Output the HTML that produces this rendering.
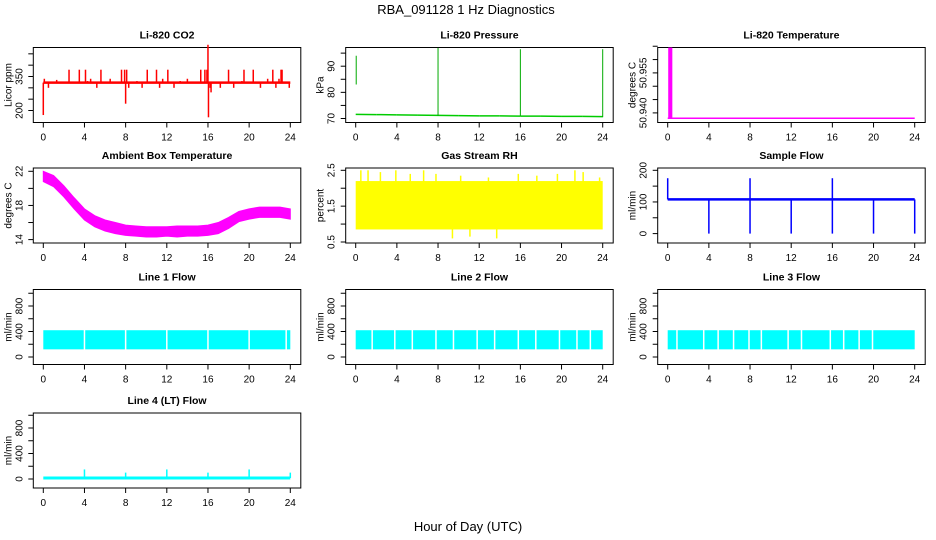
<!DOCTYPE html>
<html><head><meta charset="utf-8"><style>
html,body{margin:0;padding:0;background:#fff;}
svg{display:block;font-family:"Liberation Sans",sans-serif;}
</style></head><body>
<svg id="chart" width="936" height="540" viewBox="0 0 936 540" xmlns="http://www.w3.org/2000/svg">
<text x="466" y="14" text-anchor="middle" font-size="13">RBA_091128  1 Hz Diagnostics</text>
<text x="468" y="531" text-anchor="middle" font-size="13">Hour of Day (UTC)</text>
</svg>
<script>
// ---- data arrays ----
const xTicks = [0,4,8,12,16,20,24];
const co2Base = 323;
const co2SpikeT = [0,0.1,0.5,1.3,2.5,3.5,4.1,4.3,4.6,5.2,5.6,6.5,7.6,7.9,8.0,8.1,8.3,9.1,9.6,10.1,11.0,11.3,11.6,12.1,12.7,13.3,14.0,15.3,15.7,15.9,16.0,16.05,16.2,16.3,17.2,18.0,18.5,19.3,19.5,20.4,21.1,21.8,22.3,22.6,22.9,23.1,23.2,23.9];
const co2SpikeV = [180,340,300,335,380,380,380,330,340,300,380,340,380,380,230,380,300,330,300,380,380,300,340,380,300,330,340,380,380,380,490,170,300,280,300,380,300,330,380,380,300,340,380,300,340,380,380,300];
const presT = [0,2,4,6,8,10,12,14,16,18,20,22,24];
const presV = [71.6,71.5,71.4,71.3,71.2,71.1,71.0,71.0,70.9,70.9,70.8,70.8,70.7];
const presSpikeT = [0.05,8.0,16.0,24.0];
const presSpikeLo = [83,71,71,70.5];
const presSpikeHi = [94,97,96.5,96.5];
const tempBase = 50.938;
const tempBarT = [0.05,0.45];
const tempBarHi = 50.9645;
const ambT = [0,1,2,3,4,5,6,7,8,9,10,11,12,13,14,15,16,17,18,19,20,21,22,23,24];
const ambLo = [20.8,20.2,19.0,17.6,16.3,15.5,15.0,14.7,14.5,14.4,14.3,14.3,14.4,14.3,14.4,14.4,14.5,14.7,15.3,16.1,16.4,16.6,16.6,16.6,16.4];
const ambHi = [22.0,21.5,20.3,18.9,17.6,16.8,16.3,16.0,15.7,15.6,15.5,15.5,15.5,15.6,15.6,15.6,15.7,16.0,16.6,17.3,17.6,17.8,17.8,17.8,17.6];
const rhT = [0,24];
const rhLo = [0.85,0.85];
const rhHi = [2.2,2.2];
const rhSpikeT = [0.5,1.2,2.4,3.9,5.3,6.6,7.8,9.4,10.2,11.1,12.9,13.7,15.8,17.6,19.6,21.3,22.1,23.7];
const rhSpikeV = [2.5,2.5,2.45,2.5,2.4,2.5,2.4,0.6,2.35,0.65,2.3,0.6,2.4,2.35,2.4,2.5,2.45,2.3];
const sfBase = 108;
const sfDropT = [4,8,12,16,20,24];
const sfSpikeT = [0,8,16];
const sfSpikeV = [175,175,175];
const lineLo = [120,120,120];
const lineHi = [420,420,420];
const line1Gaps = [4,8,12,16,20,23.6];
const line2Gaps = [1.6,3.8,5.5,7.8,9.5,11.8,13.5,15.8,17.5,19.8,21.5,22.8];
const line3Gaps = [0.9,3.5,4.9,6.4,7.9,9.1,11.7,13.0,15.8,17.1,18.6,19.9];
const line4Base = 15;
const line4SpikeT = [4,8,12,16,20,24];
const line4SpikeV = [150,100,150,100,150,100];

// ---- layout ----
const NS = "http://www.w3.org/2000/svg";
const svg = document.getElementById('chart');
const colX0 = [43.3,355.7,667.7], colW = 247;
const rowTop = [47.5,168,289.5,413], boxH = 75;
function mk(tag, attrs, parent){
  const e = document.createElementNS(NS, tag);
  for (const k in attrs) e.setAttribute(k, attrs[k]);
  (parent||svg).appendChild(e);
  return e;
}
function panel(col,row,title,ylab,v1,p1,v2,p2,yTicks,yLabels,name){
  const g = mk('g',{});
  
  
  const x0 = colX0[col], top = rowTop[row];
  const sx = t => x0 + t/24*colW;
  const sy = v => top + p1 + (v-v1)*(p2-p1)/(v2-v1);
  const bl = x0-10, br = x0+colW+10.5, bb = top+boxH;
  const t = mk('text',{x:(bl+br)/2,y:top-9,'text-anchor':'middle','font-size':10.5,'font-weight':'bold'},g);
  t.textContent = title;
  
  
  const ax = mk('g',{stroke:'#000','stroke-width':1,fill:'none'},g);
  
  
  mk('rect',{x:bl,y:top,width:br-bl,height:boxH},ax);
  xTicks.forEach(v=>{
    mk('line',{x1:sx(v),x2:sx(v),y1:bb,y2:bb+5},ax);
    const tl = mk('text',{x:sx(v),y:bb+18,'text-anchor':'middle','font-size':10},g);
    tl.textContent = v;
    
    
  });
  yTicks.forEach(v=>{
    mk('line',{x1:bl,x2:bl-5,y1:sy(v),y2:sy(v)},ax);
  });
  yLabels.forEach(v=>{
    const yy = sy(parseFloat(v));
    const tl = mk('text',{x:0,y:0,'text-anchor':'middle','font-size':10,transform:`translate(${bl-11},${yy}) rotate(-90)`},g);
    tl.textContent = v;
    
    
  });
  const yl = mk('text',{x:0,y:0,'text-anchor':'middle','font-size':10,transform:`translate(${bl-22},${top+boxH/2}) rotate(-90)`},g);
  yl.textContent = ylab;
  
  
  const dg = mk('g',{},g);
  
  
  return {sx,sy,g:dg};
}
function seg(p,t1,v1,t2,v2,col,w,nm){
  const l = mk('line',{x1:p.sx(t1),y1:p.sy(v1),x2:p.sx(t2),y2:p.sy(v2),stroke:col,'stroke-width':w},p.g);
  
  
  return l;
}

// CO2
let p = panel(0,0,'Li-820 CO2','Licor ppm',200,63,350,29,[200,250,300,350,400,450],['200','350'],'co2');
seg(p,0,co2Base,24,co2Base,'#f00',2.5,'co2-baseline');
co2SpikeT.forEach((t,i)=>seg(p,t,co2Base,t,co2SpikeV[i],'#f00',1.5,'co2-spike'));

// Pressure
p = panel(1,0,'Li-820 Pressure','kPa',70,71,90,18.7,[70,75,80,85,90,95],['70','80','90'],'pressure');
for(let i=0;i<presT.length-1;i++) seg(p,presT[i],presV[i],presT[i+1],presV[i+1],'#0c0',1.5,'pressure-line');
presSpikeT.forEach((t,i)=>seg(p,t,presSpikeLo[i],t,presSpikeHi[i],'#0a0',1,'pressure-spike'));

// Li-820 temperature
p = panel(2,0,'Li-820 Temperature','degrees C',50.940,65.4,50.955,25.4,[50.940,50.945,50.950,50.955,50.960,50.965],['50.940','50.955'],'licor-temp');
seg(p,0,tempBase,24,tempBase,'#f0f',1.5,'licor-temp-line');
(function(){const r=mk('rect',{x:p.sx(tempBarT[0]),y:p.sy(tempBarHi),width:p.sx(tempBarT[1])-p.sx(tempBarT[0]),height:p.sy(tempBase)-p.sy(tempBarHi),fill:'#f0f'},p.g);

})();

// Ambient
p = panel(0,1,'Ambient Box Temperature','degrees C',14,71.6,22,3.3,[14,16,18,20,22],['14','18','22'],'ambient');
(function(){let d='';ambT.forEach((t,i)=>{d+=(i?'L':'M')+p.sx(t)+','+p.sy(ambHi[i]);});
for(let i=ambT.length-1;i>=0;i--) d+='L'+p.sx(ambT[i])+','+p.sy(ambLo[i]);
const pa=mk('path',{d:d+'Z',fill:'#f0f',stroke:'#f0f','stroke-width':1},p.g);

})();

// RH
p = panel(1,1,'Gas Stream RH','percent',0.5,74,2.5,2.3,[0.5,1,1.5,2,2.5],['0.5','1.5','2.5'],'rh');
(function(){const r=mk('rect',{x:p.sx(rhT[0]),y:p.sy(rhHi[0]),width:p.sx(rhT[1])-p.sx(rhT[0]),height:p.sy(rhLo[0])-p.sy(rhHi[0]),fill:'#ff0'},p.g);

})();
rhSpikeT.forEach((t,i)=>seg(p,t,1.5,t,rhSpikeV[i],'#ff0',1.5,'rh-spike'));

// Sample flow
p = panel(2,1,'Sample Flow','ml/min',0,65.6,200,2.3,[0,50,100,150,200],['0','100','200'],'sample-flow');
seg(p,0,sfBase,24,sfBase,'#00f',2.5,'sample-flow-line');
sfDropT.forEach(t=>seg(p,t,sfBase,t,0,'#00f',1.5,'sample-flow-drop'));
sfSpikeT.forEach((t,i)=>seg(p,t,sfBase,t,sfSpikeV[i],'#00f',1.5,'sample-flow-spike'));

// Line flows
function linePanel(col,row,title,name,lo,hi,gaps){
  const q = panel(col,row,title,'ml/min',0,67.5,800,16.5,[0,200,400,600,800,1000],['0','400','800'],name);
  const r=mk('rect',{x:q.sx(0),y:q.sy(hi),width:q.sx(24)-q.sx(0),height:q.sy(lo)-q.sy(hi),fill:'#0ff'},q.g);
  
  
  gaps.forEach(t=>seg(q,t,lo-5,t,hi+5,'#fff',1.5,name+'-gap'));
}
linePanel(0,2,'Line 1 Flow','line1-flow',lineLo[0],lineHi[0],line1Gaps);
linePanel(1,2,'Line 2 Flow','line2-flow',lineLo[1],lineHi[1],line2Gaps);
linePanel(2,2,'Line 3 Flow','line3-flow',lineLo[2],lineHi[2],line3Gaps);

p = panel(0,3,'Line 4 (LT) Flow','ml/min',0,66,800,15,[0,200,400,600,800,1000],['0','400','800'],'line4-flow');
seg(p,0,line4Base,24,line4Base,'#0ff',3,'line4-flow-line');
line4SpikeT.forEach((t,i)=>seg(p,t,line4Base,t,line4SpikeV[i],'#0ff',1.5,'line4-flow-spike'));
</script>
</body></html>
